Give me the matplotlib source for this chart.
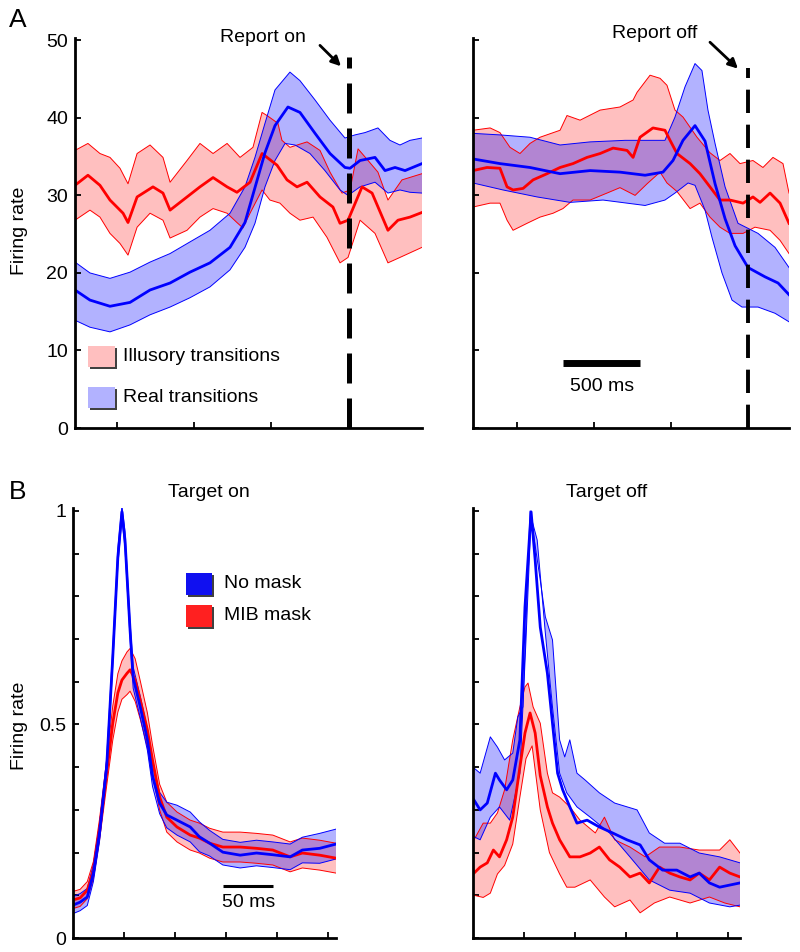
import matplotlib
matplotlib.use("Agg")

import numpy as np
import matplotlib.pyplot as plt
from matplotlib.patches import Rectangle
from matplotlib import patheffects

plt.rcParams["font.family"] = ["Liberation Sans", "DejaVu Sans"]
plt.rcParams["font.size"] = 14

RED = "#ff0000"
BLUE = "#0000ff"

# ---- panel A, aligned to "Report on" (ms, firing rate) ----
on_ill_t = [-1775, -1691, -1613, -1548, -1463, -1431, -1372, -1269, -1204, -1158, -1048, -964, -879, -788,
            -724, -639, -561, -529, -464, -399, -334, -269, -185, -101, -55, -3, 88, 153, 256, 321, 399, 477]
on_ill_mean = [31.3, 32.6, 31.3, 29.4, 27.7, 26.5, 29.8, 31.1, 30.3, 28.1, 29.8, 31.1, 32.3, 31.1,
               30.4, 31.7, 35.4, 34.9, 33.9, 32.0, 31.1, 31.7, 29.8, 28.5, 26.4, 26.8, 31.1, 30.3, 25.5, 26.8, 27.2, 27.8]
on_ill_hi_t = [-1775, -1691, -1613, -1548, -1483, -1431, -1372, -1288, -1204, -1158, -1048, -964, -879, -788,
               -704, -620, -561, -529, -458, -432, -380, -269, -185, -120, -42, 10, 62, 127, 191, 256, 347, 477]
on_ill_hi = [35.8, 36.7, 35.4, 34.9, 33.5, 31.5, 35.4, 36.5, 34.9, 31.7, 34.5, 36.7, 35.4, 36.7,
             34.9, 36.2, 40.7, 40.3, 39.3, 37.1, 36.2, 36.9, 35.8, 33.0, 30.3, 30.7, 36.0, 34.5, 33.0, 29.4, 32.0, 32.8]
on_ill_lo_t = [-1775, -1678, -1613, -1548, -1483, -1431, -1372, -1288, -1204, -1158, -1048, -964, -879, -788,
               -724, -685, -639, -561, -510, -445, -380, -315, -230, -140, -55, -3, 75, 172, 256, 334, 477]
on_ill_lo = [26.8, 28.1, 27.2, 25.1, 23.8, 22.3, 25.9, 27.7, 26.8, 24.5, 25.5, 27.2, 28.3, 27.7,
             26.5, 25.8, 27.7, 30.7, 29.4, 29.0, 27.7, 26.8, 27.2, 24.6, 21.3, 22.0, 26.8, 25.1, 21.3, 22.0, 23.3]

on_real_t = [-1775, -1678, -1548, -1418, -1288, -1158, -1029, -899, -769, -672, -607, -542, -477,
             -393, -315, -217, -120, -23, 10, 75, 172, 237, 302, 367, 477]
on_real_mean = [17.8, 16.5, 15.7, 16.2, 17.8, 18.7, 20.1, 21.3, 23.3, 26.5, 31.0, 35.5, 39.0,
                41.4, 40.7, 38.0, 35.4, 33.6, 33.5, 34.5, 34.9, 33.2, 33.6, 33.2, 34.1]
on_real_hi_t = [-1775, -1678, -1548, -1418, -1288, -1158, -1029, -899, -769, -672, -607, -542, -477,
                -380, -315, -217, -120, -23, 42, 107, 191, 269, 334, 399, 477]
on_real_hi = [21.4, 20.0, 19.3, 20.1, 21.4, 22.5, 24.0, 25.5, 27.7, 31.1, 34.9, 39.3, 43.6,
              45.9, 44.8, 42.3, 39.7, 37.4, 37.8, 38.1, 38.7, 37.1, 36.5, 37.1, 37.4]
on_real_lo_t = [-1775, -1678, -1548, -1418, -1288, -1158, -1029, -899, -769, -672, -607, -542, -477,
                -412, -347, -250, -153, -55, -3, 75, 172, 256, 334, 399, 477]
on_real_lo = [13.9, 13.0, 12.4, 13.3, 14.6, 15.6, 16.8, 18.2, 20.4, 23.3, 26.4, 31.1, 34.5,
              36.7, 36.5, 35.4, 33.2, 30.7, 30.0, 31.1, 31.7, 30.3, 30.7, 30.4, 30.3]

# ---- panel A, aligned to "Report off" ----
off_ill_t = [-1785, -1694, -1610, -1564, -1525, -1460, -1395, -1304, -1220, -1136, -1045, -960, -876, -785,
             -746, -701, -617, -539, -506, -461, -376, -312, -247, -182, -117, -32, 32, 78, 143, 208, 266]
off_ill_mean = [33.2, 33.6, 33.5, 31.1, 30.7, 30.9, 32.0, 32.8, 33.6, 34.1, 34.9, 35.4, 36.1, 35.8,
                34.9, 37.5, 38.7, 38.4, 37.1, 35.4, 34.1, 32.8, 31.1, 29.4, 29.4, 29.0, 29.8, 29.1, 30.3, 29.0, 26.4]
off_ill_hi_t = [-1785, -1674, -1610, -1545, -1480, -1415, -1350, -1220, -1175, -1090, -960, -831, -746, -720,
                -636, -571, -526, -474, -422, -331, -247, -182, -117, -52, 32, 97, 162, 227, 266]
off_ill_hi = [38.4, 38.7, 38.1, 36.2, 35.4, 36.7, 37.5, 38.4, 40.3, 39.7, 41.0, 41.4, 42.3, 43.3,
              45.5, 45.1, 44.2, 41.0, 40.1, 37.5, 35.5, 34.5, 35.4, 34.1, 34.5, 33.6, 34.9, 34.1, 30.3]
off_ill_lo_t = [-1785, -1674, -1610, -1564, -1525, -1434, -1350, -1265, -1201, -1136, -1025, -915, -831, -733,
                -655, -571, -526, -461, -376, -312, -247, -182, -117, -32, 45, 143, 208, 266]
off_ill_lo = [28.5, 29.0, 29.0, 26.8, 25.5, 26.4, 27.2, 27.7, 28.3, 29.4, 29.4, 30.3, 31.0, 30.0,
              31.5, 33.0, 31.6, 30.5, 28.3, 29.0, 27.2, 25.9, 25.1, 25.1, 25.9, 25.5, 24.2, 22.5]

off_real_t = [-1785, -1610, -1415, -1220, -1025, -831, -668, -552, -487, -422, -344, -279, -214, -149, -84, 0, 110, 195, 266]
off_real_mean = [34.7, 34.1, 33.6, 32.8, 33.2, 33.0, 32.6, 33.0, 34.5, 37.1, 39.0, 37.0, 31.5, 27.0, 23.5, 20.7, 19.5, 18.7, 17.2]
off_real_hi_t = [-1785, -1610, -1415, -1220, -1025, -798, -539, -474, -409, -344, -299, -260, -214, -149, -65, 65, 175, 266]
off_real_hi = [38.0, 37.8, 37.5, 36.5, 36.9, 37.1, 37.1, 40.1, 44.0, 47.0, 46.1, 41.0, 36.7, 31.1, 26.4, 25.1, 23.3, 20.7]
off_real_lo_t = [-1785, -1590, -1369, -1155, -941, -668, -539, -474, -389, -344, -279, -234, -169, -104, -39, 65, 175, 266]
off_real_lo = [31.6, 30.7, 29.8, 29.1, 29.4, 28.7, 29.4, 30.3, 31.6, 31.3, 28.1, 24.6, 20.0, 16.5, 15.6, 15.6, 14.8, 13.7]

# ---- panel B, target on (ms, normalised rate) ----
bl_nomask_t = [0, 7, 14, 20, 26, 33, 39, 44, 48, 51, 56, 59, 66, 73, 78, 85, 92, 102, 115, 124, 134, 147, 164,
               180, 196, 213, 225, 242, 258]
bl_nomask_mean = [.077, .084, .096, .152, .246, .40, .658, .892, .998, .932, .72, .61, .541, .464, .38, .316, .288,
                  .276, .26, .237, .222, .201, .194, .199, .195, .19, .206, .21, .22]
bl_nomask_err = [.02, .02, .02, .02, .02, .02, .02, .02, .015, .02, .02, .025, .025, .025, .025, .025, .03,
                 .035, .035, .035, .03, .03, .03, .03, .03, .03, .03, .035, .035]
bl_mib_t = [0, 7, 14, 20, 26, 33, 39, 44, 48, 53, 56, 61, 66, 73, 78, 85, 92, 102, 115, 124, 134, 147, 164,
            180, 196, 213, 225, 242, 258]
bl_mib_mean = [.089, .094, .112, .159, .253, .386, .503, .574, .604, .62, .628, .604, .557, .487, .417, .33, .283,
               .26, .241, .234, .222, .213, .213, .21, .206, .19, .199, .194, .187]
bl_mib_err = [.02, .02, .02, .02, .025, .03, .04, .045, .045, .05, .05, .05, .045, .04, .035, .03, .035,
              .035, .035, .035, .035, .035, .035, .035, .035, .035, .035, .035, .035]

# ---- panel B, target off ----
br_nomask_t = [1, 7, 14, 22, 26, 33, 39, 46, 51, 57, 61, 66, 73, 78, 83, 88, 95, 102, 112, 124, 137, 151, 164,
               173, 186, 200, 213, 222, 232, 242, 252, 262]
br_nomask_mean = [.323, .30, .316, .386, .37, .347, .37, .464, .775, .998, .885, .728, .62, .503, .386, .347, .307,
                  .269, .276, .26, .246, .23, .218, .183, .159, .159, .143, .152, .129, .119, .124, .129]
br_nomask_hi_t = [1, 7, 17, 24, 31, 39, 44, 49, 56, 66, 71, 78, 85, 90, 95, 102, 110, 124, 139, 161, 173, 188,
                  203, 222, 242, 262]
br_nomask_hi = [.398, .386, .471, .447, .417, .433, .518, .541, 1.0, .838, .752, .698, .464, .424, .464, .386, .37,
                .34, .316, .30, .246, .222, .222, .199, .19, .176]
br_nomask_lo_t = [1, 7, 17, 26, 36, 46, 52, 57, 63, 71, 78, 85, 92, 102, 115, 134, 154, 173, 193, 213, 232, 252, 262]
br_nomask_lo = [.237, .23, .283, .307, .276, .386, .698, .986, .932, .714, .541, .386, .34, .307, .283, .246, .19,
                .136, .112, .105, .082, .073, .077]
br_mib_t = [1, 7, 14, 20, 26, 33, 39, 46, 51, 56, 61, 66, 73, 78, 85, 95, 105, 115, 124, 134, 144, 154, 164,
            173, 183, 193, 203, 213, 222, 232, 242, 252, 262]
br_mib_mean = [.152, .166, .176, .206, .19, .23, .283, .40, .48, .527, .48, .38, .307, .269, .23, .19, .19, .199,
               .213, .183, .166, .143, .152, .129, .166, .152, .143, .136, .152, .136, .166, .152, .143]
br_mib_hi_t = [1, 10, 17, 24, 31, 39, 46, 51, 54, 59, 66, 73, 78, 85, 95, 105, 120, 129, 139, 154, 169, 183,
               203, 222, 242, 252, 262]
br_mib_hi = [.23, .269, .269, .293, .347, .464, .541, .588, .597, .541, .503, .386, .34, .33, .307, .276, .246,
             .283, .23, .213, .19, .213, .213, .206, .206, .23, .199]
br_mib_lo_t = [1, 10, 17, 24, 31, 39, 46, 52, 58, 66, 75, 85, 92, 100, 115, 129, 139, 154, 164, 178, 193, 213,
               232, 247, 262]
br_mib_lo = [.1, .095, .105, .15, .17, .22, .33, .42, .45, .30, .2, .15, .119, .119, .136, .096, .073, .089, .059,
             .082, .096, .082, .096, .082, .073]

rate_ticks_a = [0, 10, 20, 30, 40, 50]
time_ticks_a = [-1500, -1000, -500, 0]
time_ticks_b = [50, 100, 150, 200, 250]
rate_ticks_b = np.round(np.arange(0, 1.01, 0.1), 1)


def band(ax, hi_t, hi, lo_t, lo, color, alpha):
    hi_t, hi, lo_t, lo = map(np.asarray, (hi_t, hi, lo_t, lo))
    ax.fill(np.r_[hi_t, lo_t[::-1]], np.r_[hi, lo[::-1]], color=color, alpha=alpha, lw=0)
    ax.plot(hi_t, hi, color=color, lw=0.7)
    ax.plot(lo_t, lo, color=color, lw=0.7)


def style(ax):
    for s in ("top", "right"):
        ax.spines[s].set_visible(False)
    for s in ("left", "bottom"):
        ax.spines[s].set_linewidth(2)
    ax.tick_params(direction="in", length=4, width=1.3, pad=5, labelsize=14)


fig = plt.figure(figsize=(8, 9.52), dpi=100)

ax_on = fig.add_axes([0.09375, 0.5504, 0.43375, 0.4097])
ax_off = fig.add_axes([0.59125, 0.5504, 0.395, 0.4097])
ax_ton = fig.add_axes([0.09125, 0.0147, 0.32875, 0.4517])
ax_toff = fig.add_axes([0.59125, 0.0147, 0.33375, 0.4517])

# panel A
for ax, data in ((ax_on, (on_ill_hi_t, on_ill_hi, on_ill_lo_t, on_ill_lo, on_real_hi_t, on_real_hi,
                          on_real_lo_t, on_real_lo, on_ill_t, on_ill_mean, on_real_t, on_real_mean)),
                 (ax_off, (off_ill_hi_t, off_ill_hi, off_ill_lo_t, off_ill_lo, off_real_hi_t, off_real_hi,
                           off_real_lo_t, off_real_lo, off_ill_t, off_ill_mean, off_real_t, off_real_mean))):
    band(ax, data[0], data[1], data[2], data[3], RED, 0.25)
    band(ax, data[4], data[5], data[6], data[7], BLUE, 0.3)
    ax.plot(data[8], data[9], color=RED, lw=2)
    ax.plot(data[10], data[11], color=BLUE, lw=2)
    style(ax)
    ax.set_ylim(0, 50.3)
    ax.set_yticks(rate_ticks_a)
    ax.set_xticks(time_ticks_a)
    ax.set_xticklabels([])

ax_on.set_xlim(-1775, 477)
ax_off.set_xlim(-1785, 266)
ax_off.set_yticklabels([])

ax_on.vlines(0, 0, 47.8, color="k", lw=3.6, linestyles=(0, (6, 3)))
ax_off.vlines(0, 0, 46.4, color="k", lw=2.8, linestyles=(0, (6, 3)))
ax_on.text(-555, 50.4, "Report on", ha="center", va="center", fontsize=14)
ax_on.annotate("", xy=(-36, 46.4), xytext=(-198, 49.6), annotation_clip=False,
               arrowprops=dict(arrowstyle="-|>", lw=2, color="k", mutation_scale=14))
ax_off.text(-604, 50.9, "Report off", ha="center", va="center", fontsize=14)
ax_off.annotate("", xy=(-52, 46.1), xytext=(-260, 50.0), annotation_clip=False,
                arrowprops=dict(arrowstyle="-|>", lw=2, color="k", mutation_scale=14))

# 500 ms scale bar
ax_off.plot([-1200, -700], [8.4, 8.4], color="k", lw=5, solid_capstyle="butt")
ax_off.text(-950, 5.4, "500 ms", ha="center", va="center", fontsize=14)

# legend of panel A
shadow = [patheffects.withSimplePatchShadow(offset=(1.5, -1.5), shadow_rgbFace="0.25", alpha=1)]
for ypos, col, alpha, label in ((0.156, RED, 0.25, "Illusory transitions"), (0.051, BLUE, 0.3, "Real transitions")):
    r = Rectangle((0.037, ypos), 0.078, 0.055, transform=ax_on.transAxes, facecolor="white", lw=0,
                  path_effects=shadow)
    ax_on.add_patch(r)
    ax_on.add_patch(Rectangle((0.037, ypos), 0.078, 0.055, transform=ax_on.transAxes, facecolor=col,
                              alpha=alpha, lw=0))
    ax_on.text(0.138, ypos + 0.028, label, transform=ax_on.transAxes, va="center", fontsize=14)

# panel B
for ax, nm_hi_t, nm_hi, nm_lo_t, nm_lo, nm_t, nm_mean, mb_hi_t, mb_hi, mb_lo_t, mb_lo, mb_t, mb_mean in (
        (ax_ton, bl_nomask_t, np.add(bl_nomask_mean, bl_nomask_err), bl_nomask_t,
         np.subtract(bl_nomask_mean, bl_nomask_err), bl_nomask_t, bl_nomask_mean,
         bl_mib_t, np.add(bl_mib_mean, bl_mib_err), bl_mib_t, np.subtract(bl_mib_mean, bl_mib_err),
         bl_mib_t, bl_mib_mean),
        (ax_toff, br_nomask_hi_t, br_nomask_hi, br_nomask_lo_t, br_nomask_lo, br_nomask_t, br_nomask_mean,
         br_mib_hi_t, br_mib_hi, br_mib_lo_t, br_mib_lo, br_mib_t, br_mib_mean)):
    band(ax, mb_hi_t, mb_hi, mb_lo_t, mb_lo, RED, 0.25)
    band(ax, nm_hi_t, nm_hi, nm_lo_t, nm_lo, BLUE, 0.3)
    ax.plot(mb_t, mb_mean, color=RED, lw=2)
    ax.plot(nm_t, nm_mean, color=BLUE, lw=2)
    style(ax)
    ax.set_ylim(0, 1.007)
    ax.set_yticks(rate_ticks_b)
    ax.set_xticks(time_ticks_b)
    ax.set_xticklabels([])

ax_ton.set_xlim(0, 258)
ax_toff.set_xlim(0, 262)
ax_ton.set_yticklabels(["0" if v == 0 else "0.5" if v == 0.5 else "1" if v == 1 else "" for v in rate_ticks_b])
ax_toff.set_yticklabels([])

ax_ton.text(0.517, 1.035, "Target on", transform=ax_ton.transAxes, ha="center", va="center", fontsize=14)
ax_toff.text(0.502, 1.035, "Target off", transform=ax_toff.transAxes, ha="center", va="center", fontsize=14)

# 50 ms scale bar
ax_ton.plot([147, 196], [0.122, 0.122], color="k", lw=2.2, solid_capstyle="butt")
ax_ton.text(172, 0.082, "50 ms", ha="center", va="center", fontsize=14)

# legend of panel B
for ypos, col, label in ((0.798, "#1010f0", "No mask"), (0.723, "#ff2020", "MIB mask")):
    ax_ton.add_patch(Rectangle((0.43, ypos), 0.1, 0.051, transform=ax_ton.transAxes, facecolor=col, lw=0,
                               path_effects=shadow))
    ax_ton.text(0.574, ypos + 0.026, label, transform=ax_ton.transAxes, va="center", fontsize=14)

# labels
fig.text(20 / 800, 1 - 231 / 952, "Firing rate", rotation=90, ha="center", va="center", fontsize=14)
fig.text(20 / 800, 1 - 726 / 952, "Firing rate", rotation=90, ha="center", va="center", fontsize=14)
fig.text(18 / 800, 1 - 20 / 952, "A", ha="center", va="center", fontsize=19)
fig.text(18 / 800, 1 - 492 / 952, "B", ha="center", va="center", fontsize=19)

fig.savefig("out.png", dpi=100)
